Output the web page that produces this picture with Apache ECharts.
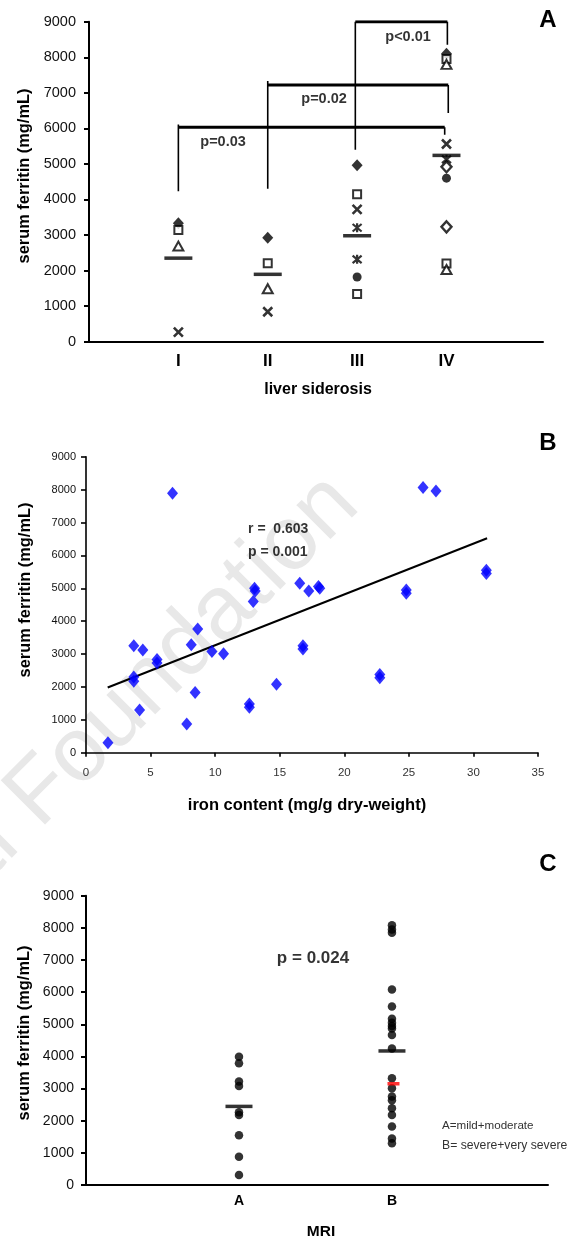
<!DOCTYPE html>
<html>
<head>
<meta charset="utf-8">
<title>serum ferritin</title>
<script src="https://cdn.jsdelivr.net/npm/echarts@6/dist/echarts.min.js"></script>
<style>
  html, body { margin: 0; padding: 0; background: #fff; }
  #chart { width: 579px; height: 1242px; }
</style>
</head>
<body>
<div id="chart"></div>
<script>
(function () {
  "use strict";

  // ===== 字体 =====
  const REG = '"Liberation Sans", Arial, sans-serif';

  // ===== A: liver siderosis (x = group 1..4) =====
  const siderosisLabels = ["", "I", "II", "III", "IV"];
  const aDiamondFilled = [[1, 3330], [2, 2925], [3, 4960], [4, 8100]];
  const aSquareOpen = [[1, 3140], [2, 2205], [3, 4150], [3, 1340], [4, 7950], [4, 2200]];
  const aTriangleOpen = [[1, 2690], [2, 1490], [4, 7800], [4, 2030]];
  const aCross = [[1, 270], [2, 843], [3, 3722], [4, 5560]];
  const aStar = [[3, 3205], [3, 2317], [4, 5130]];
  const aCircleFilled = [[3, 1819], [4, 4600]];
  const aDiamondOpen = [[4, 3230], [4, 4920]];
  const aMeans = [[1, 2350], [2, 1895], [3, 2980], [4, 5240]];
  // [左x, 右x, 横线y, 左腿顶, 左腿底, 右腿底]
  const aBrackets = [
    [1.0, 3.98, 6030, 6110, 4230, 5820],
    [2.0, 4.02, 7220, 7330, 4300, 6430],
    [2.98, 4.01, 9000, 9000, 5400, 8350],
  ];
  const aPLabels = [[1.5, 5626, "p=0.03"], [2.63, 6817, "p=0.02"], [3.57, 8578, "p<0.01"]];

  // ===== B: iron content vs ferritin =====
  const ironPoints = [
    [1.7, 300], [3.7, 3250], [3.7, 2300], [3.7, 2170], [4.15, 1300], [4.4, 3120],
    [5.5, 2830], [5.5, 2730], [6.7, 7890], [7.8, 870], [8.15, 3280], [8.45, 1830],
    [8.65, 3760], [9.75, 3080], [10.65, 3010], [12.65, 1480], [12.65, 1380],
    [12.95, 4600], [13.05, 5000], [13.1, 4920], [14.75, 2080], [16.55, 5150],
    [16.8, 3250], [16.8, 3150], [17.25, 4920], [18.0, 5050], [18.1, 5000],
    [22.75, 2380], [22.75, 2280], [24.8, 4950], [24.8, 4850], [26.1, 8060],
    [27.1, 7960], [31.0, 5550], [31.0, 5450],
  ];
  const trendLine = [[1.68, 1984], [31.06, 6521]];
  const bStats = [[12.55, 6812, "r =  0.603"], [12.55, 6112, "p = 0.001"]];

  // ===== C: MRI groups =====
  const mriLabels = ["", "A", "B"];
  const mriA = [3990, 3790, 3220, 3080, 2260, 2180, 1550, 880, 310];
  const mriB = [8080, 7950, 7850, 6080, 5550, 5170, 5050, 4950, 4870, 4670, 4250,
                3320, 3010, 2750, 2640, 2390, 2180, 1820, 1450, 1300];
  const mriMeans = [[1, 2445], [2, 4170]];
  const mriMedianB = [[2.01, 3150]];
  const cStats = [[1.484, 7060, "p = 0.024"]];

  // ===== 工具 =====
  const black = "#000";
  const CROSS = "path://M0,0L10,10M10,0L0,10";
  const STAR = "path://M0,0L10,10M10,0L0,10M5,-1L5,11";

  function yAxisCommon(grid, labelSize, margin, lineWidth) {
    return {
      gridIndex: grid, type: "value", min: 0, max: 9000, interval: 1000,
      axisLine: { show: true, lineStyle: { color: black, width: lineWidth } },
      axisTick: { show: true, length: 5, lineStyle: { color: black, width: lineWidth } },
      splitLine: { show: false },
      axisLabel: {
        fontSize: labelSize, fontFamily: REG, color: "#111", margin: margin,
        formatter: v => String(v),
      },
    };
  }

  function scatter(name, data, symbol, size, style, x, z) {
    return {
      name, type: "scatter", xAxisIndex: x, yAxisIndex: x, data,
      symbol, symbolSize: size, itemStyle: style, z: z || 3, silent: true,
    };
  }
  function seg(data, width, x) {
    return {
      type: "line", xAxisIndex: x, yAxisIndex: x, data, symbol: "none",
      lineStyle: { color: black, width: width }, z: 2, silent: true,
    };
  }
  function textPts(data, x, opts) {
    return {
      type: "scatter", xAxisIndex: x, yAxisIndex: x, data, symbolSize: 0, silent: true,
      label: Object.assign({
        show: true, position: "inside", formatter: p => p.data[2],
        color: black, fontFamily: REG, fontWeight: "bold",
        textBorderWidth: 0, textBorderColor: "transparent",
      }, opts),
    };
  }

  const filled = { color: black };
  const open = { color: "#fff", borderColor: black, borderWidth: 2 };
  const stroke = { color: "rgba(0,0,0,0)", borderColor: black, borderWidth: 2.6 };

  const series = [
    // A
    scatter("diamond", aDiamondFilled, "diamond", [11, 12], filled, 0),
    scatter("square", aSquareOpen, "rect", 8, open, 0),
    scatter("triangle", aTriangleOpen, "triangle", [10, 9], open, 0),
    scatter("cross", aCross, CROSS, 9, stroke, 0),
    scatter("star", aStar, STAR, 9, { color: "rgba(0,0,0,0)", borderColor: black, borderWidth: 2.2 }, 0),
    scatter("circle", aCircleFilled, "circle", 9, filled, 0),
    scatter("diamondOpen", aDiamondOpen, "diamond", [10, 11], { color: "#fff", borderColor: black, borderWidth: 2.4 }, 0),
    scatter("meanA", aMeans, "rect", [28, 3.5], filled, 0, 4),
    textPts(aPLabels, 0, { fontSize: 14.5 }),
    // B
    scatter("iron", ironPoints, "diamond", [11, 13], { color: "#0000ff" }, 1),
    seg(trendLine, 2, 1),
    textPts(bStats, 1, { fontSize: 14, align: "left" }),
    // C
    scatter("mriA", mriA.map(v => [1, v]), "circle", 8.5, filled, 2),
    scatter("mriB", mriB.map(v => [2, v]), "circle", 8.5, filled, 2),
    scatter("meanC", mriMeans, "rect", [27, 3.5], filled, 2, 4),
    scatter("medianB", mriMedianB, "rect", [12, 3.5], { color: "#ff0000" }, 2, 5),
    textPts(cStats, 2, { fontSize: 17 }),
  ];
  aBrackets.forEach(([x1, x2, y, lt, lb, rb]) => {
    series.push(seg([[x1, lt], [x1, lb]], 1.6, 0));
    series.push(seg([[x2, y], [x2, rb]], 1.6, 0));
    series.push(seg([[x1, y], [x2, y]], 3, 0));
  });

  // ===== 文本 =====
  function txt(x, y, text, font, extra) {
    return Object.assign({
      type: "text", x, y, silent: true,
      style: {
        text, font, fill: black,
        textAlign: "center", textVerticalAlign: "middle",
        align: "center", verticalAlign: "middle",
      },
    }, extra || {});
  }
  function yName(x, y) {
    return txt(x, y, "serum ferritin (mg/mL)", "bold 16.4px " + REG, { rotation: Math.PI / 2 });
  }
  const watermark = {
    type: "text", x: 344, y: 490, rotation: Math.PI / 4, z: -10, silent: true,
    style: {
      text: "Storti Foundation", font: "91px " + REG, fill: "#e8e8e8",
      textAlign: "right", textVerticalAlign: "middle", align: "right", verticalAlign: "middle",
    },
  };
  const legendLine = (y, s, size) => ({
    type: "text", x: 442, y, silent: true,
    style: { text: s, font: size + "px " + REG, fill: "#333", textAlign: "left", align: "left",
             textVerticalAlign: "middle", verticalAlign: "middle" },
  });

  const graphics = [
    watermark,
    txt(548, 20, "A", "bold 24px " + REG),
    txt(548, 443, "B", "bold 24px " + REG),
    txt(548, 864, "C", "bold 24px " + REG),
    yName(24, 176), yName(25, 590), yName(24, 1033),
    txt(318, 390, "liver siderosis", "bold 16px " + REG),
    txt(307, 805, "iron content (mg/g dry-weight)", "bold 16.5px " + REG),
    txt(321, 1232, "MRI", "bold 15.5px " + REG),
    legendLine(1126, "A=mild+moderate", 11.6),
    legendLine(1146, "B= severe+very severe", 12.2),
  ];

  const option = {
    animation: false,
    backgroundColor: "#fff",
    textStyle: { fontFamily: REG },
    grid: [
      { left: 89, top: 21.7, width: 454, height: 320 },
      { left: 86, top: 456.7, width: 452, height: 296 },
      { left: 86, top: 895.7, width: 462, height: 289.3 },
    ],
    xAxis: [
      {
        gridIndex: 0, type: "value", min: 0, max: 5.08, interval: 1,
        axisLine: { show: true, onZero: false, lineStyle: { color: black, width: 2 } },
        axisTick: { show: false }, splitLine: { show: false },
        axisLabel: {
          formatter: v => siderosisLabels[v] || "", margin: 11,
          fontSize: 17, fontWeight: "bold", color: black,
        },
      },
      {
        gridIndex: 1, type: "value", min: 0, max: 35, interval: 5,
        axisLine: { show: true, onZero: false, lineStyle: { color: black, width: 1.6 } },
        axisTick: { show: true, length: 4, lineStyle: { color: black, width: 1.6 } },
        splitLine: { show: false },
        axisLabel: { fontSize: 11.5, color: "#333", margin: 14 },
      },
      {
        gridIndex: 2, type: "value", min: 0, max: 3.02, interval: 1,
        axisLine: { show: true, onZero: false, lineStyle: { color: black, width: 2 } },
        axisTick: { show: false }, splitLine: { show: false },
        axisLabel: {
          formatter: v => mriLabels[v] || "", margin: 9,
          fontSize: 14, fontWeight: "bold", color: black,
        },
      },
    ],
    yAxis: [
      yAxisCommon(0, 14.5, 13, 2),
      yAxisCommon(1, 11, 10, 1.6),
      yAxisCommon(2, 14, 12, 2),
    ],
    graphic: graphics,
    series,
  };

  const chart = echarts.init(document.getElementById("chart"), null, { renderer: "canvas" });
  chart.setOption(option);
})();
</script>
</body>
</html>
